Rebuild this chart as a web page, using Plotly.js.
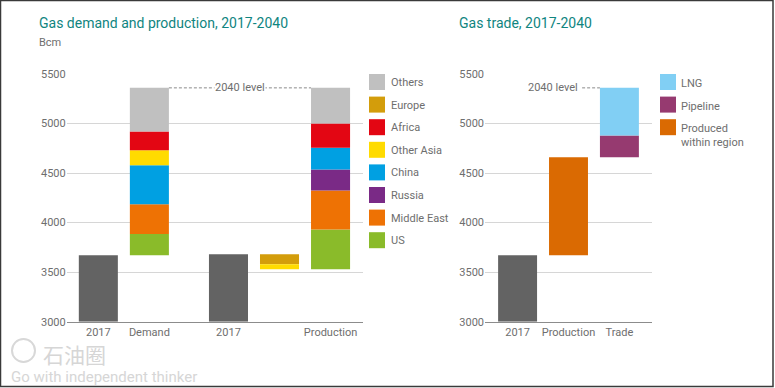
<!DOCTYPE html>
<html>
<head>
<meta charset="utf-8">
<script src="https://cdn.plot.ly/plotly-3.0.1.min.js"></script>
<style>html,body{margin:0;padding:0;background:#fff;}#chart{width:775px;height:388px;}</style>
</head>
<body>
<div id="chart"></div>
<script>
// ---------- DATA ----------
const demand2017 = 3670;
const demandRegions = ['US', 'Middle East', 'China', 'Other Asia', 'Africa', 'Others'];
const demandGrowth = [215, 300, 395, 150, 190, 440];

const production2017 = 3680;
const declineRegions = ['Europe', 'Other Asia'];
const declineValues = [100, 50];
const productionRegions = ['US', 'Middle East', 'Russia', 'China', 'Africa', 'Others'];
const productionGrowth = [400, 395, 210, 220, 245, 360];

const trade2017 = 3670;
const tradeLabels = ['Produced within region', 'Pipeline', 'LNG'];
const tradeValues = [990, 220, 480];

const leftTickLabels = ['2017', 'Demand', '2017', '', 'Production'];
const leftTickPos = [0, 1, 2.55, 3.55, 4.55];
const rightTickLabels = ['2017', 'Production', 'Trade'];
const rightTickPos = [0, 1, 2];

const legendLeft = ['Others', 'Europe', 'Africa', 'Other Asia', 'China', 'Russia', 'Middle East', 'US'];
const legendRight = ['LNG', 'Pipeline', 'Produced<br>within region'];

// ---------- STYLE ----------
const colors = {
  'Others': '#c0c0c0', 'Europe': '#d39d0b', 'Africa': '#e30613', 'Other Asia': '#ffdb00',
  'China': '#00a0e2', 'Russia': '#7a2a86', 'Middle East': '#ee7204', 'US': '#8abb2a',
  'LNG': '#81cff4', 'Pipeline': '#963a70', 'Produced within region': '#da6a02',
  'Produced<br>within region': '#da6a02', 'base': '#636363'
};
const W = 775, H = 388;
const BW = 0.765;
const font = 'Roboto, "Liberation Sans", Arial, sans-serif';
const grey = '#6e6e6e';

const traces = [];
function bar(xa, x, base, val, color) {
  traces.push({type: 'bar', xaxis: xa, yaxis: 'y', x: [x], y: [val], base: [base],
    width: BW, marker: {color: color, line: {width: 0}}, hoverinfo: 'skip', showlegend: false});
}
// left chart
bar('x', leftTickPos[0], 3000, demand2017 - 3000, colors.base);
let cum = demand2017;
demandRegions.forEach((r, i) => { bar('x', leftTickPos[1], cum, demandGrowth[i], colors[r]); cum += demandGrowth[i]; });
const demand2040 = cum;
bar('x', leftTickPos[2], 3000, production2017 - 3000, colors.base);
cum = production2017;
declineRegions.forEach((r, i) => { cum -= declineValues[i]; bar('x', leftTickPos[3], cum, declineValues[i], colors[r]); });
productionRegions.forEach((r, i) => { bar('x', leftTickPos[4], cum, productionGrowth[i], colors[r]); cum += productionGrowth[i]; });
// right chart
bar('x2', rightTickPos[0], 3000, trade2017 - 3000, colors.base);
bar('x2', rightTickPos[1], trade2017, tradeValues[0], colors[tradeLabels[0]]);
let tcum = trade2017 + tradeValues[0];
for (let i = 1; i < tradeLabels.length; i++) { bar('x2', rightTickPos[2], tcum, tradeValues[i], colors[tradeLabels[i]]); tcum += tradeValues[i]; }
const trade2040 = tcum;

const px = v => v / W, py = v => 1 - v / H;

const yax = {range: [3000, 5500], domain: [py(321.7), py(74)], tickvals: [3000, 3500, 4000, 4500, 5000, 5500],
  showgrid: true, gridcolor: '#d6d6d6', gridwidth: 1, zeroline: false, ticks: '',
  tickfont: {family: font, size: 11, color: grey}, fixedrange: true};

const shapes = [], annotations = [];
// border
shapes.push({type: 'rect', xref: 'paper', yref: 'paper', x0: px(0.5), x1: px(773), y0: py(0.5), y1: py(386.5), line: {color: '#3a3a3a', width: 1.5}});
// 2040 level lines
const lEdgeA = leftTickPos[1] + BW / 2, lEdgeB = leftTickPos[4] - BW / 2;
shapes.push({type: 'line', xref: 'x', yref: 'y', x0: lEdgeA, x1: lEdgeB, y0: demand2040, y1: demand2040, line: {color: '#8a8a8a', width: 1, dash: '3px,2px'}});
annotations.push({xref: 'x', yref: 'y', x: (lEdgeA + lEdgeB) / 2, y: demand2040, text: '2040 level', showarrow: false,
  bgcolor: '#ffffff', borderpad: 0, font: {family: font, size: 11, color: grey}});
const rEdge = rightTickPos[2] - BW / 2;
shapes.push({type: 'line', xref: 'x2', yref: 'y', x0: rEdge - 0.35, x1: rEdge, y0: trade2040, y1: trade2040, line: {color: '#8a8a8a', width: 1, dash: '3px,2px'}});
annotations.push({xref: 'x2', yref: 'y', x: rEdge - 0.35, y: trade2040, xanchor: 'right', text: '2040 level ', showarrow: false,
  font: {family: font, size: 11, color: grey}});

// titles
annotations.push({xref: 'paper', yref: 'paper', x: px(37), y: py(22.5), xanchor: 'left', yanchor: 'middle', showarrow: false,
  text: 'Gas demand and production, 2017-2040', font: {family: font, size: 14, color: '#10857f'}});
annotations.push({xref: 'paper', yref: 'paper', x: px(457), y: py(22.5), xanchor: 'left', yanchor: 'middle', showarrow: false,
  text: 'Gas trade, 2017-2040', font: {family: font, size: 14, color: '#10857f'}});
annotations.push({xref: 'paper', yref: 'paper', x: px(37), y: py(42.5), xanchor: 'left', yanchor: 'middle', showarrow: false,
  text: 'Bcm', font: {family: font, size: 11, color: grey}});

// legends
const step = 22.6;
legendLeft.forEach((name, i) => {
  const top = 74 + i * step;
  shapes.push({type: 'rect', xref: 'paper', yref: 'paper', x0: px(369), x1: px(385), y0: py(top + 16), y1: py(top), fillcolor: colors[name], line: {width: 0}});
  annotations.push({xref: 'paper', yref: 'paper', x: px(388.5), y: py(top + 8.5), xanchor: 'left', yanchor: 'middle', showarrow: false,
    text: name, font: {family: font, size: 11, color: grey}});
});
legendRight.forEach((name, i) => {
  const top = 74 + i * step;
  shapes.push({type: 'rect', xref: 'paper', yref: 'paper', x0: px(660), x1: px(676), y0: py(top + 16), y1: py(top), fillcolor: colors[name], line: {width: 0}});
  annotations.push({xref: 'paper', yref: 'paper', x: px(678.5), y: py(top + 1), xanchor: 'left', yanchor: 'top', align: 'left', showarrow: false,
    text: name, font: {family: font, size: 11, color: grey}});
});

// watermark
shapes.push({type: 'circle', xref: 'paper', yref: 'paper', x0: px(12), x1: px(35), y0: py(362), y1: py(339), line: {color: '#d8d8d8', width: 2}, fillcolor: 'rgba(0,0,0,0)'});
annotations.push({xref: 'paper', yref: 'paper', x: px(41), y: py(354), xanchor: 'left', yanchor: 'middle', showarrow: false,
  text: '石油圈', font: {family: '"Noto Sans CJK SC", sans-serif', size: 21, color: '#d6d6d6'}});
annotations.push({xref: 'paper', yref: 'paper', x: px(9), y: py(377), xanchor: 'left', yanchor: 'middle', showarrow: false,
  text: 'Go with independent thinker', font: {family: font, size: 15, color: '#d6d6d6'}});

const layout = {
  width: W, height: H, margin: {l: 0, r: 0, t: 0, b: 0},
  paper_bgcolor: '#ffffff', plot_bgcolor: '#ffffff', barmode: 'overlay', showlegend: false,
  font: {family: font, color: grey},
  xaxis: {domain: [px(66.7), px(362.7)], range: [-0.62, 5.18], tickvals: leftTickPos, ticktext: leftTickLabels,
    showgrid: false, zeroline: false, showline: true, linecolor: '#8c8c8c', linewidth: 1.5, ticks: '',
    tickfont: {family: font, size: 11, color: grey}, anchor: 'y', fixedrange: true},
  xaxis2: {domain: [px(485), px(652)], range: [-0.64, 2.64], tickvals: rightTickPos, ticktext: rightTickLabels,
    showgrid: false, zeroline: false, showline: true, linecolor: '#8c8c8c', linewidth: 1.5, ticks: '',
    tickfont: {family: font, size: 11, color: grey}, anchor: 'y3', fixedrange: true},
  yaxis: Object.assign({anchor: 'x'}, yax),
  yaxis3: Object.assign({anchor: 'x2', overlaying: 'y'}, yax),
  shapes: shapes, annotations: annotations
};
// right chart bars use their own y axis for tick labels
traces.forEach(t => { if (t.xaxis === 'x2') t.yaxis = 'y3'; });
Plotly.newPlot('chart', traces, layout, {staticPlot: true, displayModeBar: false});
</script>
</body>
</html>
